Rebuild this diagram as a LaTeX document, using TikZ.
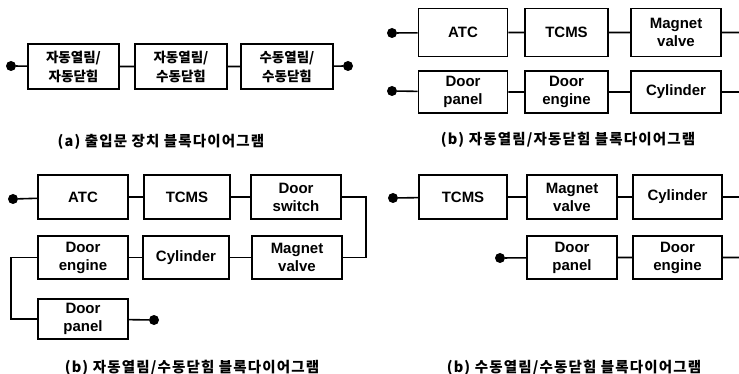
\documentclass[tikz,border=0pt]{standalone}
\usepackage{fontspec}
\setmainfont{Liberation Sans}
\newfontfamily\krfont{Noto Sans CJK KR}
\newfontfamily\krcapfont{Noto Sans CJK KR}[LetterSpace=8]

\begin{document}
\begin{tikzpicture}[x=1pt,y=-1pt,
  blk/.style={draw,line width=1.6pt,inner sep=0pt,minimum width=89pt,minimum height=44pt,
    align=center,font=\bfseries\fontsize{15}{18}\selectfont},
  kblk/.style={blk,minimum height=45pt,font=\krfont\bfseries\fontsize{13.5}{19}\selectfont},
  dot/.style={circle,fill,inner sep=0pt,minimum size=10pt},
  figcap/.style={font=\krcapfont\bfseries\fontsize{14.5}{16}\selectfont},
  wire/.style={line width=1.6pt}]
\useasboundingbox (0,0) rectangle (739,374);

% (a) door system
\node[dot] (a0) at (11,66) {};
\node[kblk,minimum width=91pt] (a1) at (73.5,66.5) {자동열림/\\자동닫힘};
\node[kblk,minimum width=92pt] (a2) at (181,66.5) {자동열림/\\수동닫힘};
\node[kblk,minimum width=92pt] (a3) at (287,66.5) {수동열림/\\수동닫힘};
\node[dot] (a4) at (348,66) {};
\draw[wire] (a0) -- (a1) -- (a2) -- (a3) -- (a4);
\node[figcap] (capa) at (161,142) {(a) 출입문 장치 블록다이어그램};

% (b) auto open / auto close
\node[dot] (p0) at (392,33) {};
\node[blk,minimum height=48pt] (p1) at (463,32.5) {ATC};
\node[blk,minimum height=48pt,minimum width=83pt] (p2) at (566.5,32.5) {TCMS};
\node[blk,minimum height=48pt,minimum width=90pt] (p3) at (676,32.5) {Magnet\\valve};
\coordinate (p4) at (739,32.5);
\draw[wire] (p0) -- (p1) -- (p2) -- (p3) -- (p4);
\node[dot] (p5) at (392,91) {};
\node[blk,minimum height=42pt] (p6) at (463,92) {Door\\panel};
\node[blk,minimum height=42pt,minimum width=83pt] (p7) at (566.5,92) {Door\\engine};
\node[blk,minimum height=42pt,minimum width=90pt] (p8) at (676,92) {Cylinder};
\coordinate (p9) at (739,92);
\draw[wire] (p5) -- (p6) -- (p7) -- (p8) -- (p9);
\node[figcap] (capb) at (568,140) {(b) 자동열림/자동닫힘 블록다이어그램};

% (b) auto open / manual close
\node[dot] (q0) at (13,199) {};
\node[blk,minimum width=90pt] (q1) at (83,197) {ATC};
\node[blk,minimum width=86pt] (q2) at (187,197) {TCMS};
\node[blk,minimum width=90pt] (q3) at (296,197) {Door\\switch};
\node[blk,minimum width=90pt,minimum height=43pt] (q4) at (297,257.5) {Magnet\\valve};
\node[blk,minimum width=86pt,minimum height=43pt] (q5) at (186,257.5) {Cylinder};
\node[blk,minimum width=90pt,minimum height=43pt] (q6) at (83,257.5) {Door\\engine};
\node[blk,minimum width=90pt,minimum height=40pt] (q7) at (83,319) {Door\\panel};
\node[dot] (q8) at (154,320) {};
\draw[wire] (q0) -- (q1) -- (q2) -- (q3);
\draw[wire] (q3.east) -- ++(24,0) |- (q4.east);
\draw[wire] (q4) -- (q5) -- (q6);
\draw[wire] (q6.west) -- ++(-26,0) |- (q7.west);
\draw[wire] (q7) -- (q8);
\node[figcap] (capc) at (192,368) {(b) 자동열림/수동닫힘 블록다이어그램};

% (b) manual open / manual close
\node[dot] (r0) at (393,198) {};
\node[blk,minimum width=88pt] (r1) at (463,197) {TCMS};
\node[blk,minimum width=90pt] (r2) at (572,197) {Magnet\\valve};
\node[blk,minimum width=89pt] (r3) at (677.5,197) {Cylinder};
\coordinate (r4) at (739,197);
\draw[wire] (r0) -- (r1) -- (r2) -- (r3) -- (r4);
\node[dot] (r5) at (500,258) {};
\node[blk,minimum width=90pt,minimum height=43pt] (r6) at (572,257.5) {Door\\panel};
\node[blk,minimum width=89pt,minimum height=43pt] (r7) at (677.5,257.5) {Door\\engine};
\coordinate (r8) at (739,257.5);
\draw[wire] (r5) -- (r6) -- (r7) -- (r8);
\node[figcap] (capd) at (574,368) {(b) 수동열림/수동닫힘 블록다이어그램};
\end{tikzpicture}
\end{document}
